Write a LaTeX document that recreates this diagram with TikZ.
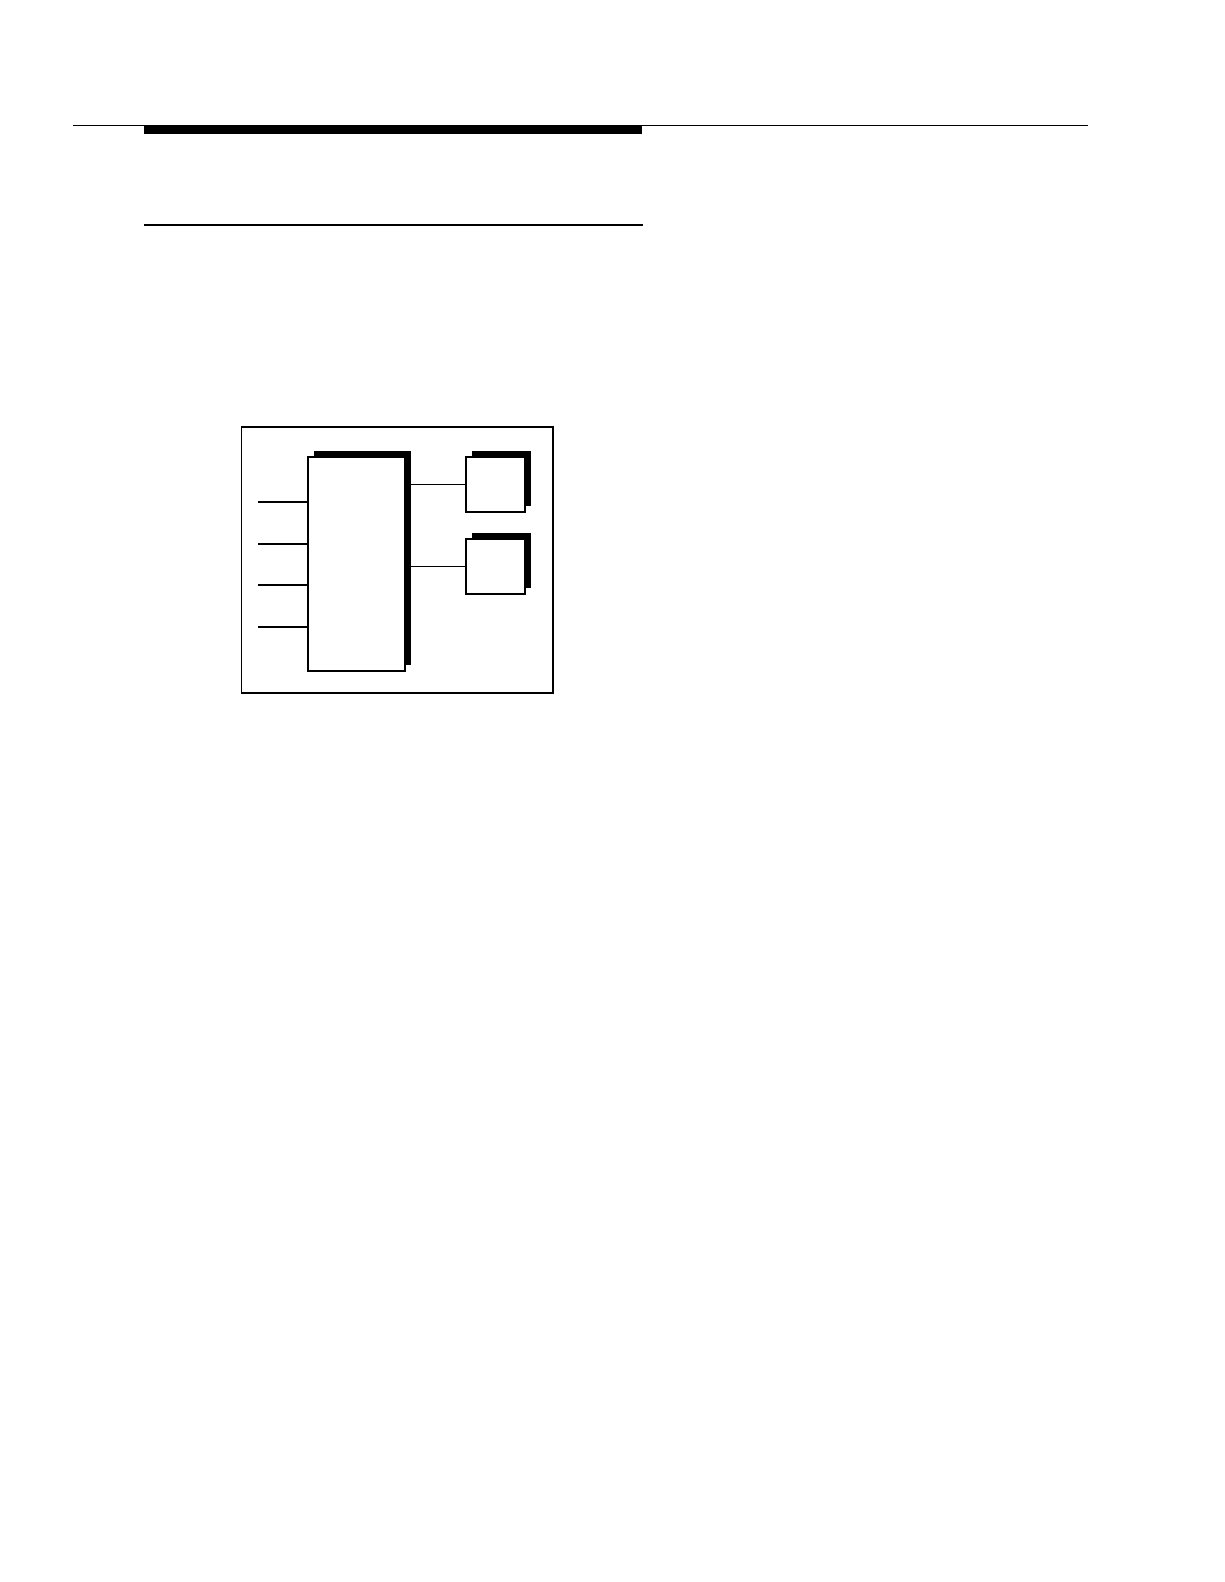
\documentclass[tikz,border=0pt]{standalone}
\usetikzlibrary{shadows}
\begin{document}
\begin{tikzpicture}[x=0.5pt,y=-0.5pt,
  unit/.style={draw,line width=1pt,fill=white,inner sep=0pt,
    drop shadow={shadow xshift=3pt,shadow yshift=3pt,opacity=1,fill=black}},
  wire/.style={line width=1pt}]
\useasboundingbox (0,0) rectangle (1224,1582);
% page rules
\draw[line width=0.5pt](73,125.5)--(1088,125.5);
\draw[line width=4pt](144,130)--(642,130);
\draw[line width=1pt](144,225)--(643,225);
% frame
\draw[line width=0.8pt](241.5,427) rectangle (553,693);
\node[unit,minimum width=48.5pt,minimum height=107pt] (hub) at (356.5,564) {};
\node[unit,minimum width=29.5pt,minimum height=27.5pt] (portA) at (495.5,484.5) {};
\node[unit,minimum width=29.5pt,minimum height=27.5pt] (portB) at (495.5,566.5) {};
\foreach \y [count=\i] in {502,543.5,585,626.5}
{
    \coordinate (in\i) at (258,\y);
    \draw[wire] (in\i)--(in\i -| hub.west);
}
\draw[line width=0.5pt] (portA.west -| hub.east)--(portA.west);
\draw[line width=0.5pt] (portB.west -| hub.east)--(portB.west);
\end{tikzpicture}
\end{document}
